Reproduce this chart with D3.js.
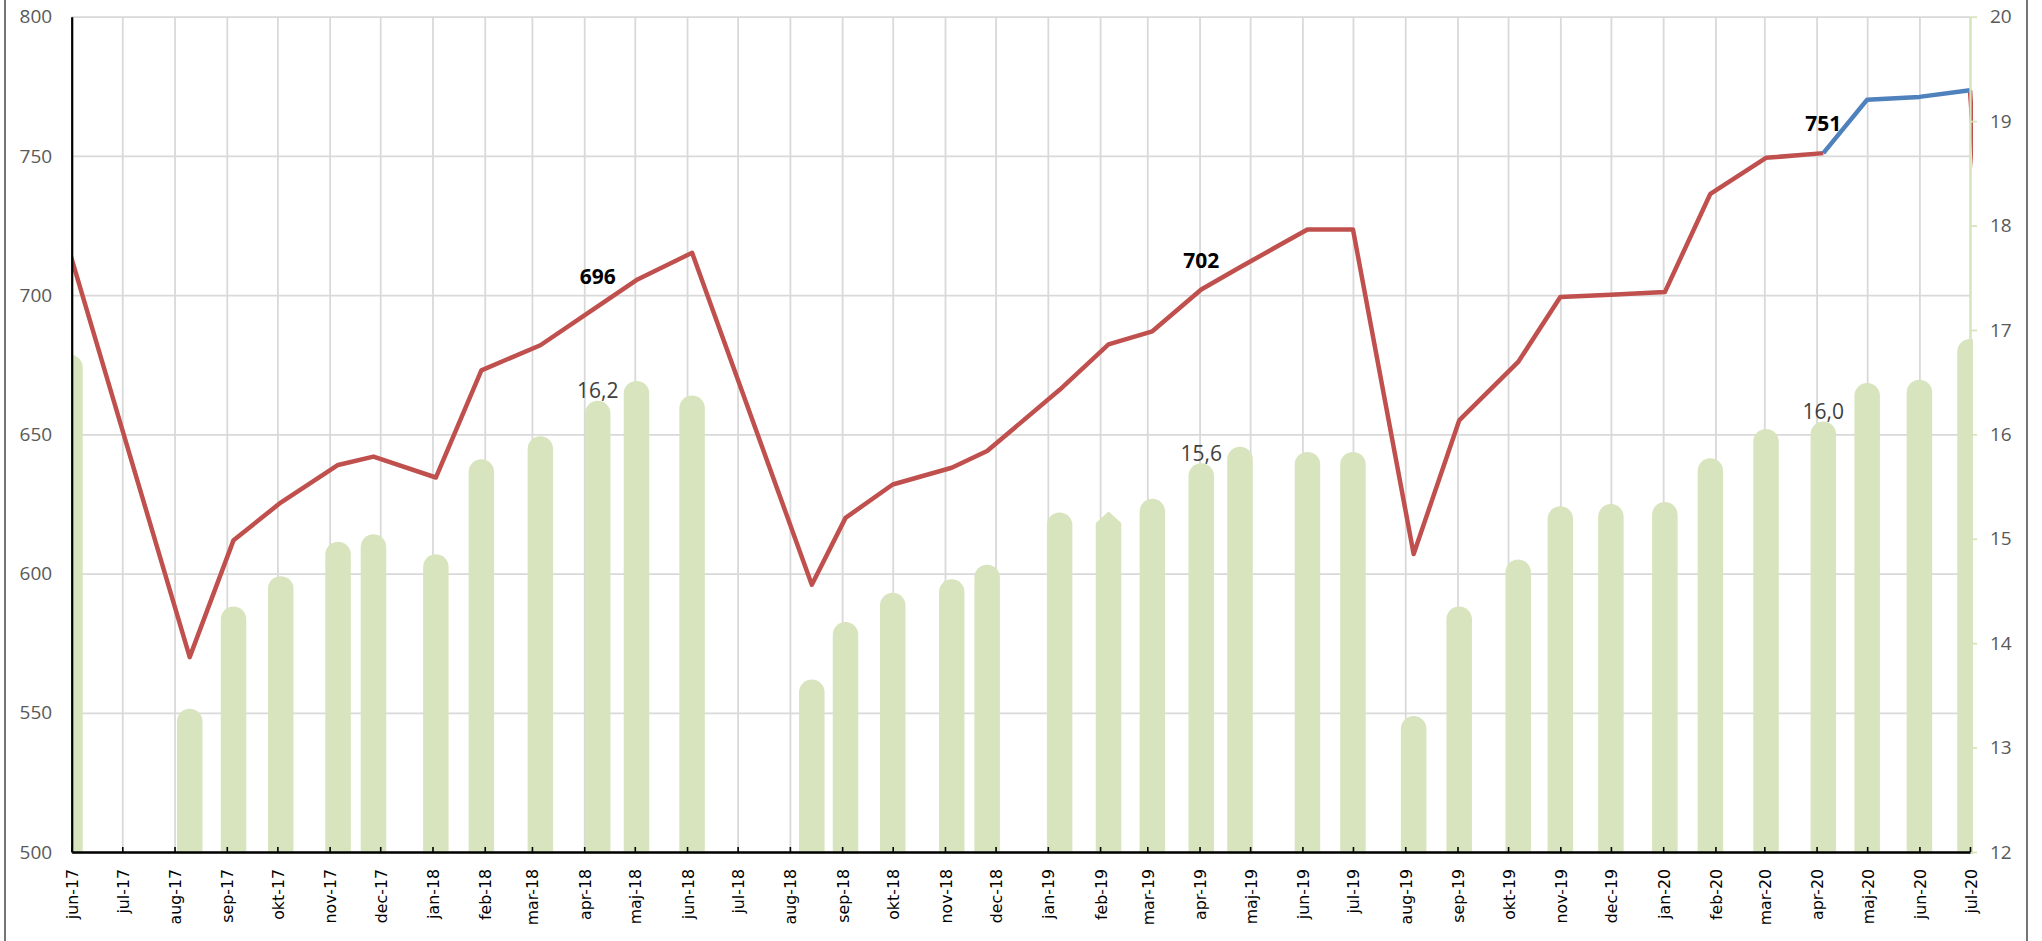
<!DOCTYPE html>
<html>
<head>
<meta charset="utf-8">
<script src="https://cdnjs.cloudflare.com/ajax/libs/d3/7.8.5/d3.min.js"></script>
<style>
  body { margin: 0; background: #fff; }
</style>
</head>
<body>
<script>
// observation dates (bars and line share them), last one lies past the axis
const dates = ["2017-05-31", "2017-08-10", "2017-09-05", "2017-10-03", "2017-11-06", "2017-11-27",
  "2018-01-03", "2018-01-30", "2018-03-06", "2018-04-09", "2018-05-02", "2018-06-04",
  "2018-08-14", "2018-09-03", "2018-10-01", "2018-11-05", "2018-11-26",
  "2019-01-08", "2019-02-06", "2019-03-04", "2019-04-02", "2019-04-25", "2019-06-04",
  "2019-07-01", "2019-08-06", "2019-09-02", "2019-10-07", "2019-11-01", "2019-12-01",
  "2020-01-02", "2020-01-29", "2020-03-02", "2020-04-05", "2020-05-01", "2020-06-01",
  "2020-07-01", "2020-07-08"];

// left axis series (line)
const prices = [715, 570, 612, 625.5, 639, 642, 634.5, 673, 682, 696, 705.4, 715.2,
  596, 620, 632, 638, 644, 666, 682.3, 687, 702, 710, 723.6, 723.6,
  607, 655, 676, 699.3, 700.1, 701.1, 736.4, 749.3, 751, 770.2, 771.2, 773.6, 710];

// right axis series (bars)
const rates = [16.64, 13.25, 14.23, 14.52, 14.85, 14.92, 14.73, 15.64, 15.86, 16.2, 16.39, 16.25,
  13.53, 14.08, 14.36, 14.49, 14.63, 15.13, 15.15, 15.26, 15.6, 15.76, 15.71, 15.71,
  13.18, 14.23, 14.68, 15.19, 15.21, 15.23, 15.65, 15.93, 16.0, 16.37, 16.4, 16.79, null];

const tickLabels = ["jun-17", "jul-17", "aug-17", "sep-17", "okt-17", "nov-17", "dec-17",
  "jan-18", "feb-18", "mar-18", "apr-18", "maj-18", "jun-18", "jul-18", "aug-18", "sep-18",
  "okt-18", "nov-18", "dec-18", "jan-19", "feb-19", "mar-19", "apr-19", "maj-19", "jun-19",
  "jul-19", "aug-19", "sep-19", "okt-19", "nov-19", "dec-19", "jan-20", "feb-20", "mar-20",
  "apr-20", "maj-20", "jun-20", "jul-20"];

const leftTicks = [500, 550, 600, 650, 700, 750, 800];
const rightTicks = [12, 13, 14, 15, 16, 17, 18, 19, 20];

const labelDates = ["2018-04-09", "2019-04-02", "2020-04-05"];
const blueFrom = "2020-04-05", blueTo = "2020-07-01";
const pointedBar = "2019-02-06";

const width = 2042, height = 941;
const plotLeft = 71.7, plotRight = 1970, plotTop = 16.7, plotBottom = 852;

const parse = d3.timeParse("%Y-%m-%d");
const data = dates.map((d, i) => ({ key: d, date: parse(d), price: prices[i], rate: rates[i] }));

const x = d3.scaleTime().domain([parse("2017-06-01"), parse("2020-07-01")]).range([plotLeft, plotRight]);
const yL = d3.scaleLinear().domain([500, 800]).range([plotBottom, plotTop]);
const yR = d3.scaleLinear().domain([12, 20]).range([plotBottom, plotTop]);
const tickDates = d3.timeMonth.range(parse("2017-06-01"), parse("2020-07-02"));

const svg = d3.select("body").append("svg")
  .attr("width", width)
  .attr("height", height);

svg.append("defs").append("clipPath").attr("id", "plot")
  .append("rect")
  .attr("x", plotLeft).attr("y", 0)
  .attr("width", plotRight - plotLeft + 3).attr("height", plotBottom + 4);

// frame
svg.append("rect")
  .attr("x", 5).attr("y", -3)
  .attr("width", 2022).attr("height", height + 6)
  .attr("fill", "none").attr("stroke", "#3a3a3a").attr("stroke-width", 1.4);

// gridlines
svg.append("g")
  .attr("transform", `translate(${plotLeft},0)`)
  .call(d3.axisLeft(yL).tickValues(leftTicks).tickSize(-(plotRight - plotLeft)).tickFormat(""))
  .call(g => g.select(".domain").remove())
  .selectAll("line").attr("stroke", "#d9d9d9").attr("stroke-width", 1.8);

svg.append("g")
  .attr("transform", `translate(0,${plotBottom})`)
  .call(d3.axisBottom(x).tickValues(tickDates).tickSize(-(plotBottom - plotTop)).tickFormat(""))
  .call(g => g.select(".domain").remove())
  .selectAll("line").attr("stroke", "#d9d9d9").attr("stroke-width", 1.8);

// bars with rounded tops
const barW = 25.5;
svg.append("g").attr("clip-path", "url(#plot)")
  .selectAll("path")
  .data(data.filter(d => d.rate != null))
  .join("path")
  .attr("fill", "#d7e4bd")
  .attr("d", d => {
    const cx = x(d.date), x0 = cx - barW / 2, yv = yR(d.rate), r = barW / 2;
    if (d.key === pointedBar) {
      return `M${x0},${plotBottom + 2}L${x0},${yv}L${cx},${yv - 11.6}L${x0 + barW},${yv}L${x0 + barW},${plotBottom + 2}Z`;
    }
    return `M${x0},${plotBottom + 2}L${x0},${yv}A${r},${r} 0 0 1 ${x0 + barW},${yv}L${x0 + barW},${plotBottom + 2}Z`;
  });

// line
const line = d3.line().x(d => x(d.date)).y(d => yL(d.price));
const iFrom = dates.indexOf(blueFrom), iTo = dates.indexOf(blueTo);
const lines = svg.append("g").attr("clip-path", "url(#plot)")
  .attr("fill", "none").attr("stroke-width", 4.5)
  .attr("stroke-linejoin", "round");

lines.append("path").attr("d", line(data.slice(0, iFrom + 1))).attr("stroke", "#c0504d");
lines.append("path").attr("d", line(data.slice(iTo))).attr("stroke", "#c0504d");
lines.append("path").attr("d", line(data.slice(iFrom, iTo + 1))).attr("stroke", "#4f81bd");

// axes
const leftAxis = svg.append("g")
  .attr("transform", `translate(${plotLeft},0)`)
  .call(d3.axisLeft(yL).tickValues(leftTicks).tickSize(0).tickPadding(19.5));
leftAxis.select(".domain").attr("stroke", "#000").attr("stroke-width", 2.2);
leftAxis.selectAll("text")
  .attr("font-family", "'Open Sans', sans-serif").attr("font-size", 19).attr("fill", "#595959");

const rightAxis = svg.append("g")
  .attr("transform", `translate(${plotRight},0)`)
  .call(d3.axisRight(yR).tickValues(rightTicks).tickSizeInner(7).tickSizeOuter(0).tickPadding(13));
rightAxis.select(".domain").attr("stroke", "#d7e4bd").attr("stroke-width", 2.2);
rightAxis.selectAll("line").attr("stroke", "#d7e4bd").attr("stroke-width", 1.8);
rightAxis.selectAll("text")
  .attr("font-family", "'Open Sans', sans-serif").attr("font-size", 19).attr("fill", "#595959");

const bottomAxis = svg.append("g")
  .attr("transform", `translate(0,${plotBottom})`)
  .call(d3.axisBottom(x).tickValues(tickDates).tickSizeInner(-5).tickSizeOuter(0)
    .tickFormat((d, i) => tickLabels[i]));
bottomAxis.select(".domain").attr("stroke", "#000").attr("stroke-width", 2.4);
bottomAxis.selectAll("line").attr("stroke", "#000").attr("stroke-width", 1.6);
bottomAxis.selectAll("text")
  .attr("transform", "rotate(-90)")
  .attr("text-anchor", "end")
  .attr("x", -17).attr("y", 0).attr("dy", "0.38em")
  .attr("font-family", "'DejaVu Sans', sans-serif").attr("font-size", 15.8).attr("fill", "#000");

// data labels
const comma = v => d3.format(".1f")(v).replace(".", ",");
const labelled = data.filter(d => labelDates.includes(d.key));

svg.append("g").selectAll("text")
  .data(labelled)
  .join("text")
  .attr("x", d => x(d.date))
  .attr("y", d => yL(d.price) - 22)
  .attr("text-anchor", "middle")
  .attr("font-family", "'Open Sans', sans-serif").attr("font-size", 21).attr("font-weight", "bold")
  .attr("fill", "#000")
  .text(d => d3.format(".0f")(d.price));

svg.append("g").selectAll("text")
  .data(labelled)
  .join("text")
  .attr("x", d => x(d.date))
  .attr("y", d => yR(d.rate) - 15)
  .attr("text-anchor", "middle")
  .attr("font-family", "'Open Sans', sans-serif").attr("font-size", 21)
  .attr("fill", "#404040")
  .text(d => comma(d.rate));
</script>
</body>
</html>
